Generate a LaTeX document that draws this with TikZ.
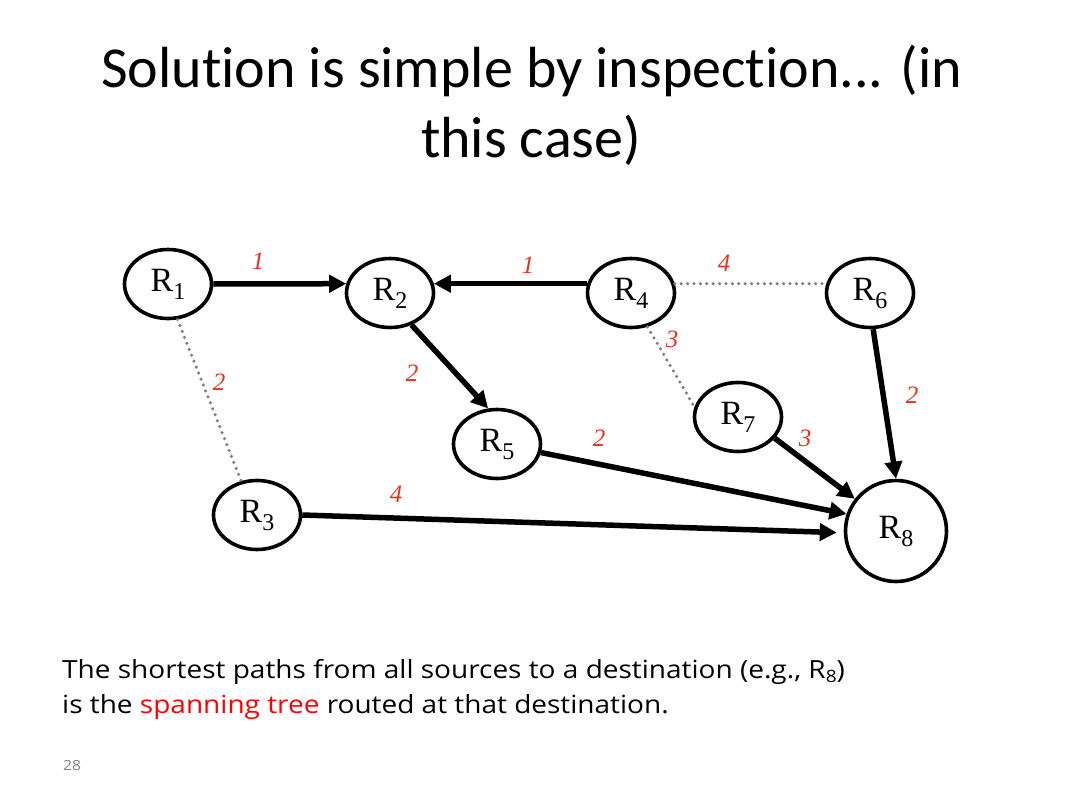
\documentclass[tikz,border=0pt]{standalone}
\usepackage{fontspec}
\setmainfont{Liberation Serif}
\newfontfamily\titlefont[Ligatures=NoCommon]{Carlito}
\newfontfamily\bodyfont[Ligatures=NoCommon,FakeStretch=1.12]{Open Sans}
\usetikzlibrary{arrows.meta,shapes.geometric}
\definecolor{lblred}{RGB}{232,48,28}
\definecolor{dotgray}{RGB}{128,128,128}
\newcommand{\rlab}[1]{R\raisebox{-8pt}{\fontsize{24}{24}\selectfont #1}}
\tikzset{
  router/.style={ellipse,draw,line width=3.6pt,minimum width=87pt,minimum height=69pt,inner sep=0pt,font=\fontsize{34}{34}\selectfont},
  bigrouter/.style={circle,draw,line width=3.6pt,minimum size=101pt,inner sep=0pt,font=\fontsize{34}{34}\selectfont},
  tree/.style={line width=5.5pt,-{Triangle[length=17pt,width=17pt]}},
  nontree/.style={dotgray,line width=3.5pt,line cap=round,dash pattern=on 0pt off 6.4pt},
  wt/.style={lblred,font=\fontsize{25}{25}\selectfont\itshape},
}
\begin{document}
\begin{tikzpicture}[x=1pt,y=-1pt]
\useasboundingbox (0,0) rectangle (1066,800);
% title
\node[anchor=base,font=\titlefont\fontsize{58}{58}\selectfont] (t1) at (532,88) {Solution is simple by inspection... (in};
\node[anchor=base,font=\titlefont\fontsize{58}{58}\selectfont] (t2) at (531,157) {this case)};
% routers
\node[router] (R1) at (168,284) {\rlab{1}};
\node[router] (R2) at (390,293) {\rlab{2}};
\node[router] (R4) at (631,293) {\rlab{4}};
\node[router] (R6) at (870,293) {\rlab{6}};
\node[router] (R5) at (497,444) {\rlab{5}};
\node[router] (R7) at (738,417) {\rlab{7}};
\node[router] (R3) at (257,515) {\rlab{3}};
\node[bigrouter] (R8) at (896,531) {\rlab{8}};
% non-tree links
\draw[nontree] (R1.-75) -- (R3.115);
\draw[nontree] (R4.12) -- (R6.168);
\draw[nontree] (R4.-64) -- (R7.167);
% tree links
\draw[tree] (R1.east) -- (R2.168);
\draw[tree] (R4.168) -- (R2.12);
\draw[tree] (R2.-56) -- (R5.104);
\draw[tree] (R5.-11) -- (R8.161);
\draw[tree,shorten >=7pt] (R3.east) -- (R8.182);
\draw[tree] (R7.-30) -- (R8.142);
\draw[tree] (R6.-85) -- (R8.north);
% weights
\node[wt] (w12) at (258,261) {1};
\node[wt] (w42) at (528,265) {1};
\node[wt] (w46) at (724,263) {4};
\node[wt] (w47) at (672,339) {3};
\node[wt] (w13) at (219,382) {2};
\node[wt] (w25) at (412,373) {2};
\node[wt] (w68) at (912,395) {2};
\node[wt] (w58) at (599,438) {2};
\node[wt] (w78) at (805,438) {3};
\node[wt] (w38) at (396,494) {4};
% caption
\node[anchor=base west,inner sep=0pt,font=\bodyfont\fontsize{25}{25}\selectfont] (c1) at (62,678) {The shortest paths from all sources to a destination (e.g., R\raisebox{-4pt}{\fontsize{17}{17}\selectfont 8})};
\node[anchor=base west,inner sep=0pt,font=\bodyfont\fontsize{25}{25}\selectfont] (c2) at (62,713) {is the \textcolor{red}{spanning tree} routed at that destination.};
\node[anchor=base west,inner sep=0pt,text=dotgray,font=\bodyfont\fontsize{14}{14}\selectfont] (pg) at (63,770) {28};
\end{tikzpicture}
\end{document}
